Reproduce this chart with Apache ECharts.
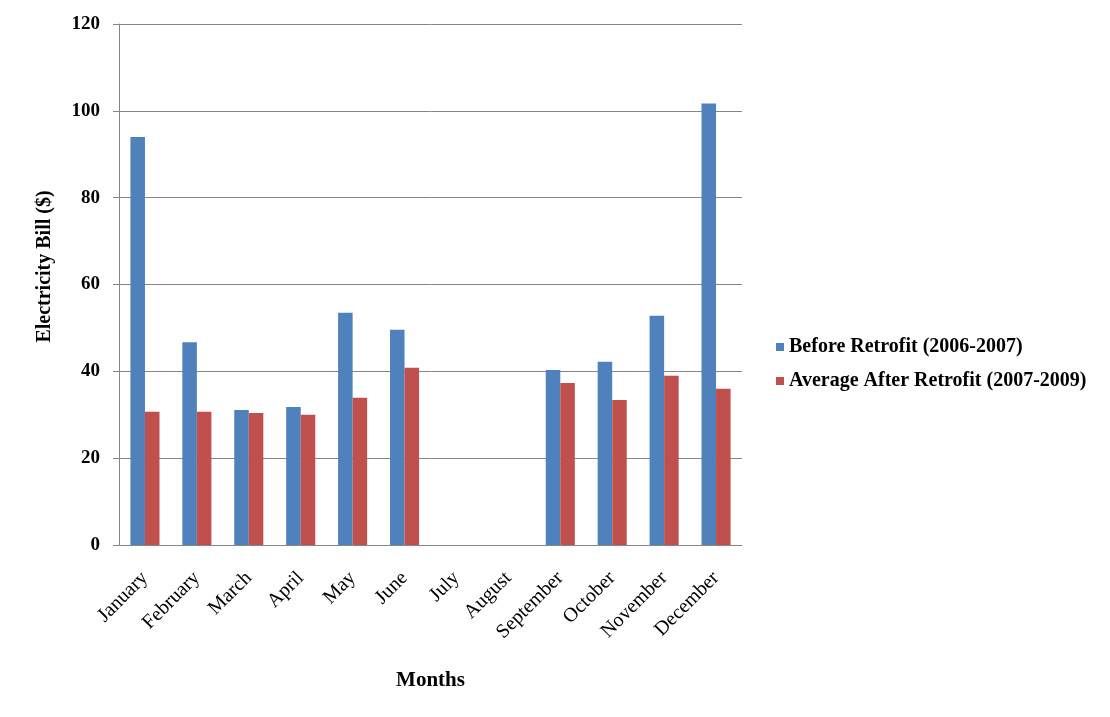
<!DOCTYPE html>
<html>
<head>
<meta charset="utf-8">
<script src="https://cdn.jsdelivr.net/npm/echarts@6/dist/echarts.min.js"></script>
<style>
html,body{margin:0;padding:0;background:#fff;}
#chart{width:1110px;height:717px;}
</style>
</head>
<body>
<div id="chart"></div>
<script>
var months = ['January','February','March','April','May','June','July','August','September','October','November','December'];
var beforeRetrofit = [94.0, 46.7, 31.1, 31.8, 53.5, 49.6, null, null, 40.3, 42.2, 52.8, 101.7];
var afterRetrofit = [30.7, 30.7, 30.4, 30.0, 33.9, 40.8, null, null, 37.3, 33.4, 39.0, 36.0];
var seriesNames = ['Before Retrofit (2006-2007)', 'Average After Retrofit (2007-2009)'];
var yTicks = {min: 0, max: 120, interval: 20};

var serif = '"Liberation Serif", "Times New Roman", serif';
var chart = echarts.init(document.getElementById('chart'), null, {renderer: 'canvas'});
chart.setOption({
  backgroundColor: '#ffffff',
  animation: false,
  grid: {left: 119, right: 368, top: 24, bottom: 172, containLabel: false},
  legend: {
    orient: 'vertical',
    left: 771,
    top: 332,
    itemWidth: 8,
    itemHeight: 8,
    itemGap: 14,
    icon: 'rect',
    textStyle: {fontFamily: serif, fontWeight: 'bold', fontSize: 20, color: '#000'},
    data: seriesNames
  },
  xAxis: {
    type: 'category',
    data: months,
    name: 'Months',
    nameLocation: 'middle',
    nameGap: 125,
    nameTextStyle: {fontFamily: serif, fontWeight: 'bold', fontSize: 21, color: '#000'},
    axisLine: {show: true, lineStyle: {color: '#868686', width: 1}},
    axisTick: {show: false},
    axisLabel: {rotate: 45, margin: 30, fontFamily: serif, fontSize: 20, color: '#000', interval: 0},
    splitLine: {show: false}
  },
  yAxis: {
    type: 'value',
    min: yTicks.min,
    max: yTicks.max,
    interval: yTicks.interval,
    name: 'Electricity Bill ($)',
    nameLocation: 'middle',
    nameGap: 64,
    nameTextStyle: {fontFamily: serif, fontWeight: 'bold', fontSize: 20, color: '#000', padding: [0, 0, 0, 36]},
    axisLine: {show: true, lineStyle: {color: '#868686', width: 1}},
    axisTick: {show: true, inside: false, length: 6, lineStyle: {color: '#868686'}},
    axisLabel: {margin: 19, fontFamily: serif, fontWeight: 'bold', fontSize: 19, color: '#000'},
    splitLine: {show: true, lineStyle: {color: '#868686', width: 1}}
  },
  series: [
    {
      name: seriesNames[0],
      type: 'bar',
      data: beforeRetrofit,
      itemStyle: {color: '#4F81BD'},
      barGap: '0%',
      barCategoryGap: '44%'
    },
    {
      name: seriesNames[1],
      type: 'bar',
      data: afterRetrofit,
      itemStyle: {color: '#C0504D'},
      barGap: '0%',
      barCategoryGap: '44%'
    }
  ]
});
</script>
</body>
</html>
